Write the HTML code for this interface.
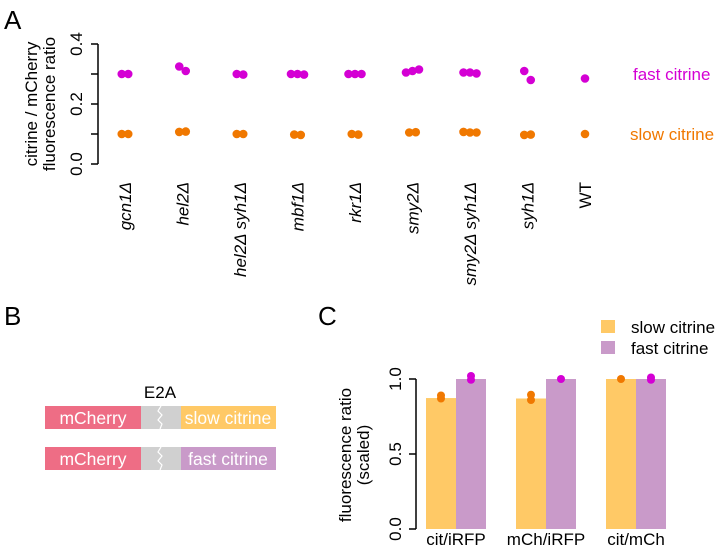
<!DOCTYPE html>
<html><head><meta charset="utf-8"><style>
body{margin:0;background:#fff;}
svg{display:block;font-family:"Liberation Sans",sans-serif;}
</style></head><body>
<svg id="fig" width="720" height="549" viewBox="0 0 720 549">
<text x="4" y="29" font-size="26">A</text>
<text x="4" y="325" font-size="26">B</text>
<text x="318" y="325" font-size="26">C</text>
<g id="pa"></g>
<g id="pb">
  <text x="160" y="398" font-size="17" text-anchor="middle">E2A</text>
  <g>
    <rect x="45" y="406" width="96" height="23" fill="#ee6d85"/>
    <rect x="141" y="406" width="40" height="23" fill="#d0d0d0"/>
    <polyline points="161,406 158,411 162,415 158,420 162,424 160,429" fill="none" stroke="#fff" stroke-width="1.2"/>
    <rect x="181" y="406" width="95" height="23" fill="#ffc966"/>
    <text x="93" y="424" font-size="17.5" fill="#fff" text-anchor="middle">mCherry</text>
    <text x="228" y="424" font-size="17.5" fill="#fff" text-anchor="middle">slow citrine</text>
  </g>
  <g>
    <rect x="45" y="447" width="96" height="23" fill="#ee6d85"/>
    <rect x="141" y="447" width="40" height="23" fill="#d0d0d0"/>
    <polyline points="161,447 158,452 162,456 158,461 162,465 160,470" fill="none" stroke="#fff" stroke-width="1.2"/>
    <rect x="181" y="447" width="95" height="23" fill="#c99ac9"/>
    <text x="93" y="465" font-size="17.5" fill="#fff" text-anchor="middle">mCherry</text>
    <text x="228" y="465" font-size="17.5" fill="#fff" text-anchor="middle">fast citrine</text>
  </g>
</g>
<g id="pc"></g>
</svg>
<script>
const NS="http://www.w3.org/2000/svg";
function mk(tag,attrs,parent,txt){const e=document.createElementNS(NS,tag);for(const k in attrs)e.setAttribute(k,attrs[k]);if(txt!==undefined)e.textContent=txt;parent.appendChild(e);return e;}
// ---- Panel A data ----
const strains=["gcn1Δ","hel2Δ","hel2Δ syh1Δ","mbf1Δ","rkr1Δ","smy2Δ","smy2Δ syh1Δ","syh1Δ","WT"];
const fastVals=[[0.30,0.30],[0.325,0.31],[0.30,0.298],[0.30,0.30,0.298],[0.30,0.30,0.30],[0.305,0.31,0.315],[0.305,0.305,0.302],[0.31,0.28],[0.285]];
const slowVals=[[0.10,0.10],[0.107,0.108],[0.10,0.10],[0.098,0.097],[0.10,0.098],[0.105,0.106],[0.107,0.105,0.105],[0.097,0.098],[0.10]];
const aTicks=[0.0,0.2,0.4];
const aMinorTicks=[0.1,0.3];
// ---- Panel C data ----
const cCats=["cit/iRFP","mCh/iRFP","cit/mCh"];
const slowBars=[0.873,0.87,1.0];
const fastBars=[1.0,1.0,1.0];
const slowPts=[[0.89,0.87],[0.895,0.86],[1.0]];
const fastPts=[[1.02,0.995],[1.0],[1.01,0.995]];
const cTicks=[0.0,0.5,1.0];

// Panel A
const pa=document.getElementById('pa');
const ay=v=>164-v*300, ax=i=>125+i*57.5;
mk('line',{x1:98,x2:98,y1:ay(0),y2:ay(0.4),stroke:'#000','stroke-width':1.5},pa);
aTicks.concat(aMinorTicks).forEach(t=>{const l=mk('line',{x1:91,x2:98,y1:ay(t),y2:ay(t),stroke:'#000','stroke-width':1.5},pa);});
aTicks.forEach(t=>{const y=ay(t);const tx=mk('text',{x:0,y:0,'font-size':17,'text-anchor':'middle',transform:`translate(82,${y}) rotate(-90)`},pa,t.toFixed(1));

});
const at=mk('text',{'font-size':17,'text-anchor':'middle',transform:'translate(37,104) rotate(-90)'},pa);


mk('tspan',{x:0,y:0},at,'citrine / mCherry');mk('tspan',{x:0,y:18},at,'fluorescence ratio');
function jit(j,n){return (j-(n-1)/2)*6.5;}
strains.forEach((s,i)=>{
  const lb=mk('text',{'font-size':17,'text-anchor':'end','font-style':s==='WT'?'normal':'italic',transform:`translate(${ax(i)+6},182) rotate(-90)`},pa,s);
  
  
  fastVals[i].forEach((v,j,a)=>{const c=mk('circle',{cx:ax(i)+jit(j,a.length),cy:ay(v),r:4.3,fill:'#d400d4'},pa);
  
  });
  slowVals[i].forEach((v,j,a)=>{const c=mk('circle',{cx:ax(i)+jit(j,a.length),cy:ay(v),r:4.3,fill:'#f07800'},pa);
  
  });
});
const l1=mk('text',{x:633,y:80,'font-size':17,fill:'#d400d4'},pa,'fast citrine');

const l2=mk('text',{x:630,y:140,'font-size':17,fill:'#f07800'},pa,'slow citrine');


// Panel C
const pc=document.getElementById('pc');
const cy=v=>529-v*150, cx=i=>456+i*90;
mk('line',{x1:416,x2:416,y1:cy(0),y2:cy(1),stroke:'#000','stroke-width':1.5},pc);
cTicks.forEach(t=>{const l=mk('line',{x1:409,x2:416,y1:cy(t),y2:cy(t),stroke:'#000','stroke-width':1.5},pc);
const tx=mk('text',{'font-size':17,'text-anchor':'middle',transform:`translate(401,${cy(t)}) rotate(-90)`},pc,t.toFixed(1));

});
const ct=mk('text',{'font-size':17,'text-anchor':'middle',transform:'translate(351,455) rotate(-90)'},pc);


mk('tspan',{x:0,y:0},ct,'fluorescence ratio');mk('tspan',{x:0,y:18},ct,'(scaled)');
cCats.forEach((c,i)=>{
  const b1=mk('rect',{x:cx(i)-30,y:cy(slowBars[i]),width:30,height:cy(0)-cy(slowBars[i]),fill:'#ffc966'},pc);
  
  
  const b2=mk('rect',{x:cx(i),y:cy(fastBars[i]),width:30,height:cy(0)-cy(fastBars[i]),fill:'#c99ac9'},pc);
  
  
  slowPts[i].forEach(v=>{const p=mk('circle',{cx:cx(i)-15,cy:cy(v),r:4,fill:'#f07800'},pc);
  
  });
  fastPts[i].forEach(v=>{const p=mk('circle',{cx:cx(i)+15,cy:cy(v),r:4,fill:'#d400d4'},pc);
  
  });
  const t=mk('text',{x:cx(i),y:545,'font-size':17,'text-anchor':'middle'},pc,c);
  
  
});
const lg=mk('g',{},pc);


mk('rect',{x:601,y:320,width:14,height:13,fill:'#ffc966'},lg);
mk('text',{x:631,y:333,'font-size':17},lg,'slow citrine');
mk('rect',{x:601,y:341,width:14,height:13,fill:'#c99ac9'},lg);
mk('text',{x:631,y:354,'font-size':17},lg,'fast citrine');
</script>
</body></html>
